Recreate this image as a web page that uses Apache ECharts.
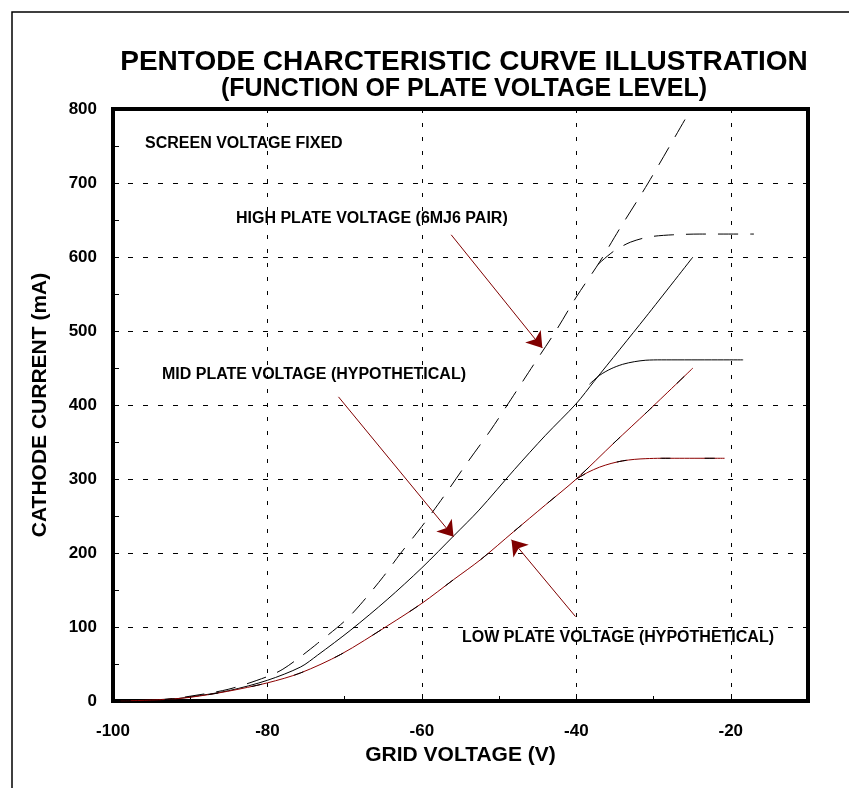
<!DOCTYPE html>
<html>
<head>
<meta charset="utf-8">
<title>Pentode characteristic curve</title>
<style>
  html, body { margin: 0; padding: 0; background: #fff; }
  #chart { width: 849px; height: 788px; }
</style>
<script src="https://cdn.jsdelivr.net/npm/echarts@6.0.0/dist/echarts.min.js"></script>
</head>
<body>
<div id="chart"></div>
<script>
// grid voltage (V) and cathode current (mA)
var highV = [-99, -93, -90, -85, -80, -78, -75.7, -73.5, -70, -68, -65, -62.8, -60, -57.2, -54.2, -51.1, -48.5, -45.5, -42.6, -40, -37, -34.4, -30.7, -24.6];
var highI = [0, 2.5, 6.5, 16, 33, 43, 60, 78, 108, 130, 168, 199, 236, 276, 321, 366, 407, 455, 501, 546, 593, 638, 700, 810];
var highSatV = [-37.2, -36, -35, -34, -33, -31.5, -30, -27.5, -24, -17];
var highSatI = [590, 601, 609, 615, 620, 625, 628, 630, 631, 631];

var midV = [-99, -93, -90, -85, -80, -75.7, -73.5, -69.2, -64.5, -60, -55.8, -52.6, -48, -44, -40, -37.7, -31, -24.9];
var midI = [0, 2, 5.5, 14, 28, 46, 62, 96, 137, 180, 224, 258, 313, 359, 402, 432, 519, 600];
var midSatV = [-38.3, -37, -35.5, -34, -32.5, -31, -29, -18.4];
var midSatI = [428, 440, 449, 455, 458.5, 460.5, 461, 461];

var lowV = [-99, -93.4, -90, -85.2, -80, -75.7, -70.5, -64.4, -60, -55.9, -52.4, -48.1, -44, -40, -35, -30.8, -24.9];
var lowI = [0, 2, 5, 13, 24.5, 38, 63, 102, 132, 164, 191, 229, 265, 300, 350, 391, 450];
var lowSatV = [-40, -38.5, -37, -35.5, -34, -32.5, -31, -29, -20.8];
var lowSatI = [300, 309, 316, 321, 324.5, 326.5, 327.5, 328, 328];

// arrows: [fromV, fromI, toV, toI]
var highArrow = [-56.2, 630, -44.4, 477];
var midArrow = [-70.8, 411, -55.9, 222];
var lowArrow = [-40.1, 114, -48.4, 218];

var xLabels = [-100, -80, -60, -40, -20];

var FONT = '"Liberation Sans", Arial, sans-serif';
var RED = '#8b0000';
var MAROON = '#800000';

function pairs(xs, ys) {
  var out = [];
  for (var i = 0; i < xs.length; i++) out.push([xs[i], ys[i]]);
  return out;
}

function curve(xs, ys, color, type, z) {
  return {
    type: 'line',
    data: pairs(xs, ys),
    showSymbol: false,
    smooth: 0.3,
    clip: true,
    z: z || 2,
    lineStyle: { color: color, width: 1, type: type || 'solid' },
    silent: true
  };
}

function arrow(a) {
  return [
    { coord: [a[0], a[1]], symbol: 'none' },
    { coord: [a[2], a[3]], symbol: 'arrow', symbolSize: 15 }
  ];
}

function label(x, y, text, size, align) {
  return {
    type: 'text',
    x: x,
    y: y,
    style: {
      text: text,
      font: 'bold ' + size + 'px ' + FONT,
      fill: '#000',
      align: align || 'left',
      verticalAlign: 'middle',
      textAlign: align || 'left',
      textVerticalAlign: 'middle'
    }
  };
}

var chart = echarts.init(document.getElementById('chart'));

var mid = curve(midV, midI, '#000');
mid.markLine = {
  silent: true,
  animation: false,
  symbol: ['none', 'arrow'],
  symbolSize: 15,
  label: { show: false },
  lineStyle: { color: MAROON, width: 1, type: 'solid' },
  data: [arrow(highArrow), arrow(midArrow), arrow(lowArrow)]
};

var dashBlack = [20, 12];
var overlay = [10, 34];

chart.setOption({
  animation: false,
  backgroundColor: '#fff',
  textStyle: { fontFamily: FONT },
  grid: {
    left: 113, top: 109, right: 41, bottom: 87,
    show: true,
    borderColor: '#000',
    borderWidth: 4,
    containLabel: false,
    outerBoundsMode: 'none'
  },
  xAxis: [{
    type: 'value',
    min: -100, max: -10, interval: 10,
    position: 'bottom',
    axisLine: { show: true, onZero: false, lineStyle: { color: '#000', width: 4 } },
    axisTick: { show: true, inside: true, length: 5, lineStyle: { color: '#000', width: 1 } },
    axisLabel: {
      margin: 22, fontSize: 17, fontWeight: 'bold', color: '#000', fontFamily: FONT,
      formatter: function (v) { return xLabels.indexOf(v) >= 0 ? String(v) : ''; }
    },
    splitLine: { show: false },
    name: 'GRID VOLTAGE (V)',
    nameLocation: 'middle',
    nameGap: 42,
    nameTextStyle: { fontSize: 21, fontWeight: 'bold', color: '#000', fontFamily: FONT }
  }, {
    type: 'value',
    min: -100, max: -10, interval: 20,
    position: 'bottom',
    axisLine: { show: false, onZero: false },
    axisTick: { show: true, inside: true, length: 7, lineStyle: { color: '#000', width: 1 } },
    axisLabel: { show: false },
    splitLine: { show: true, lineStyle: { color: '#000', width: 1, type: [4, 10] } }
  }],
  yAxis: {
    type: 'value',
    min: 0, max: 800, interval: 100,
    axisLine: { show: true, lineStyle: { color: '#000', width: 4 } },
    axisTick: { show: true, inside: true, length: 6, lineStyle: { color: '#000', width: 1 } },
    minorTick: { show: true, splitNumber: 2, length: 6, lineStyle: { color: '#000', width: 1 } },
    axisLabel: { margin: 16, fontSize: 17, fontWeight: 'bold', color: '#000', fontFamily: FONT },
    splitLine: { show: true, lineStyle: { color: '#000', width: 1, type: [5, 10] } },
    name: 'CATHODE CURRENT (mA)',
    nameLocation: 'middle',
    nameRotate: 90,
    nameGap: 62,
    nameTextStyle: { fontSize: 21, fontWeight: 'bold', color: '#000', fontFamily: FONT }
  },
  series: [
    curve(highV, highI, '#000', dashBlack),
    curve(highSatV, highSatI, '#000', dashBlack),
    mid,
    curve(midSatV, midSatI, '#000'),
    curve(lowV, lowI, RED),
    curve(lowSatV, lowSatI, RED),
    curve(lowV, lowI, '#000', overlay, 3),
    curve(lowSatV, lowSatI, '#000', overlay, 3)
  ],
  graphic: [
    {
      type: 'rect',
      shape: { x: 12, y: 12, width: 900, height: 900 },
      style: { fill: 'none', stroke: '#000', lineWidth: 1.5 }
    },
    label(464, 62, 'PENTODE CHARCTERISTIC CURVE ILLUSTRATION', 28, 'center'),
    label(464, 89, '(FUNCTION OF PLATE VOLTAGE LEVEL)', 25, 'center'),
    label(145, 144, 'SCREEN VOLTAGE FIXED', 16),
    label(236, 219, 'HIGH PLATE VOLTAGE (6MJ6 PAIR)', 16),
    label(162, 375, 'MID PLATE VOLTAGE (HYPOTHETICAL)', 16),
    label(462, 638, 'LOW PLATE VOLTAGE (HYPOTHETICAL)', 16)
  ]
});
</script>
</body>
</html>
